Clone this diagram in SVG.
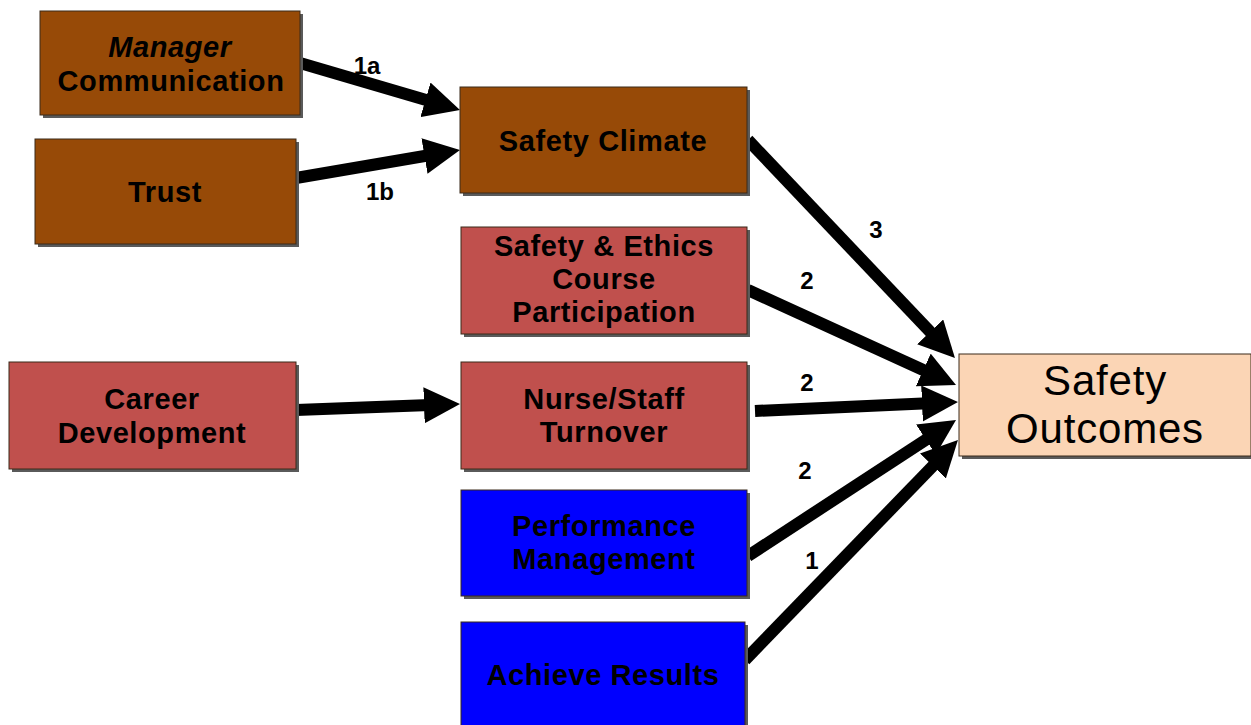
<svg xmlns="http://www.w3.org/2000/svg" width="1251" height="725" viewBox="0 0 1251 725">
<style>
.sh{fill:#5a5a5a}
.box{stroke:#3a2a1a;stroke-width:1}
.brown{fill:#974A07}
.red{fill:#C0504D}
.blue{fill:#0000FF}
.peach{fill:#FBD5B5}
.t{font-family:"Liberation Sans",Arial,sans-serif;font-weight:bold;font-size:29px;letter-spacing:0.6px;fill:#000;text-anchor:middle}
.o{font-family:"Liberation Sans",Arial,sans-serif;font-size:42px;letter-spacing:0.8px;fill:#000;text-anchor:middle}
.lbl{font-family:"Liberation Sans",Arial,sans-serif;font-weight:bold;font-size:24px;fill:#000;text-anchor:middle}
.c{stroke:#000;stroke-width:12;fill:none;marker-end:url(#ah)}
</style>
<defs>
<marker id="ah" markerUnits="userSpaceOnUse" viewBox="0 0 36 36" markerWidth="36" markerHeight="36" refX="6" refY="18" orient="auto">
<path d="M0,0 L36,18 L0,36 Z" fill="#000"/>
</marker>
</defs>
<rect width="1251" height="725" fill="#fff"/>
<g id="connectors">
<line class="c" x1="300" y1="63" x2="431.2" y2="101.5"/>
<line class="c" x1="296" y1="178" x2="430.4" y2="155"/>
<line class="c" x1="296" y1="410" x2="430" y2="405.1"/>
<line class="c" x1="748" y1="140" x2="934.3" y2="336.2"/>
<line class="c" x1="748" y1="290" x2="928.7" y2="372.5"/>
<line class="c" x1="755" y1="411" x2="928" y2="403.3"/>
<line class="c" x1="748" y1="556" x2="930.9" y2="436.4"/>
<line class="c" x1="745" y1="660" x2="937.1" y2="461.6"/>
<text class="lbl" x="367" y="74">1a</text>
<text class="lbl" x="380" y="200">1b</text>
<text class="lbl" x="876" y="238">3</text>
<text class="lbl" x="807" y="289">2</text>
<text class="lbl" x="807" y="391">2</text>
<text class="lbl" x="805" y="479">2</text>
<text class="lbl" x="812" y="569">1</text>
</g>
<g id="manager">
<rect class="sh" x="43" y="14" width="260" height="104"/>
<rect class="box brown" x="40" y="11" width="260" height="104"/>
<text class="t" x="170" y="57" font-style="italic">Manager</text>
<text class="t" x="171" y="91">Communication</text>
</g>
<g id="trust">
<rect class="sh" x="38" y="142" width="261" height="105"/>
<rect class="box brown" x="35" y="139" width="261" height="105"/>
<text class="t" x="165" y="202">Trust</text>
</g>
<g id="climate">
<rect class="sh" x="463" y="90" width="287" height="106"/>
<rect class="box brown" x="460" y="87" width="287" height="106"/>
<text class="t" x="603" y="151" letter-spacing="0">Safety Climate</text>
</g>
<g id="ethics">
<rect class="sh" x="464" y="230" width="286" height="107"/>
<rect class="box red" x="461" y="227" width="286" height="107"/>
<text class="t" x="604" y="256">Safety &amp; Ethics</text>
<text class="t" x="604" y="289">Course</text>
<text class="t" x="604" y="322">Participation</text>
</g>
<g id="career">
<rect class="sh" x="12" y="365" width="287" height="107"/>
<rect class="box red" x="9" y="362" width="287" height="107"/>
<text class="t" x="152" y="409">Career</text>
<text class="t" x="152" y="443">Development</text>
</g>
<g id="turnover">
<rect class="sh" x="464" y="365" width="286" height="107"/>
<rect class="box red" x="461" y="362" width="286" height="107"/>
<text class="t" x="604" y="409">Nurse/Staff</text>
<text class="t" x="604" y="442">Turnover</text>
</g>
<g id="performance">
<rect class="sh" x="464" y="493" width="286" height="106"/>
<rect class="box blue" x="461" y="490" width="286" height="106"/>
<text class="t" x="604" y="536">Performance</text>
<text class="t" x="604" y="569">Management</text>
</g>
<g id="achieve">
<rect class="sh" x="464" y="625" width="284" height="110"/>
<rect class="box blue" x="461" y="622" width="284" height="110"/>
<text class="t" x="603" y="685" letter-spacing="0">Achieve Results</text>
</g>
<g id="outcomes">
<rect class="sh" x="962" y="357" width="292" height="102"/>
<rect class="box peach" x="959" y="354" width="292" height="102"/>
<text class="o" x="1105" y="395">Safety</text>
<text class="o" x="1105" y="443">Outcomes</text>
</g>
</svg>
